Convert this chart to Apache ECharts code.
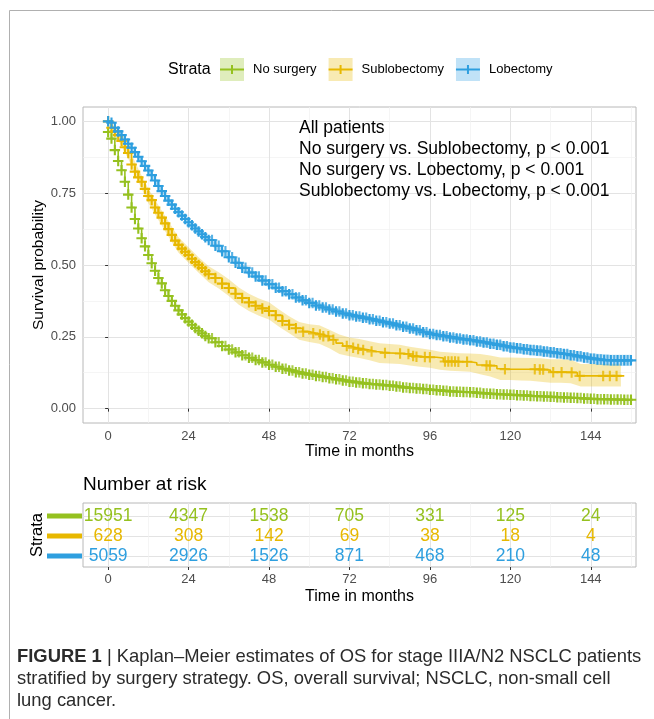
<!DOCTYPE html>
<html>
<head>
<meta charset="utf-8">
<script src="https://cdn.jsdelivr.net/npm/echarts@6/dist/echarts.min.js"></script>
<style>
html,body{margin:0;padding:0;background:#fff;}
#chart{width:654px;height:719px;}
</style>
</head>
<body>
<div id="chart"></div>
<script>
// ---------- data ----------
const strata = ['No surgery', 'Sublobectomy', 'Lobectomy'];
const xTicks = [0, 24, 48, 72, 96, 120, 144];
const xMinorTicks = [12, 36, 60, 84, 108, 132, 156];
const yTicks = [0, 0.25, 0.5, 0.75, 1];
const yMinorTicks = [0.125, 0.375, 0.625, 0.875];

const months = [0,1,2,3,4,5,6,7,8,9,10,11,12,13,14,15,16,17,18,19,20,21,22,23,24,25,26,27,28,29,30,
  32,34,36,38,40,42,44,46,48,50,52,54,56,58,60,62,64,66,68,70,72,
  74,76,78,80,82,84,86,88,90,92,94,96,98,100,102,104,106,108,110,112,114,116,118,120,
  122,124,126,128,130,132,134,136,138,140,142,144,146,148,150,152,154,156];

const survNoSurgery = [.963,.94,.90,.862,.83,.79,.745,.70,.66,.627,.593,.565,.535,.506,.48,.455,.436,.412,.392,.375,.358,.342,.328,.315,.303,.292,.281,.271,.262,.253,.245,
  .231,.218,.206,.196,.186,.177,.169,.161,.153,.146,.139,.133,.127,.122,.118,.114,.11,.106,.102,.098,.094,
  .091,.088,.086,.084,.082,.08,.077,.074,.072,.07,.068,.066,.064,.062,.06,.059,.058,.057,.055,.053,.052,.05,.049,.048,
  .047,.046,.044,.043,.042,.041,.04,.039,.038,.037,.035,.034,.033,.033,.032,.032,.031,.031];

const survSublobectomy = [1.0,.978,.965,.952,.932,.91,.89,.85,.825,.805,.79,.765,.74,.726,.70,.682,.665,.645,.625,.605,.585,.57,.557,.546,.535,.522,.51,.50,.49,.478,.468,
  .455,.435,.42,.40,.385,.37,.358,.349,.34,.325,.305,.292,.28,.268,.262,.258,.252,.24,.228,.218,.212,
  .208,.204,.199,.196,.194,.193,.192,.19,.183,.181,.18,.179,.176,.164,.164,.163,.163,.16,.152,.15,.149,.139,.137,.137,
  .137,.137,.137,.136,.134,.127,.127,.127,.126,.114,.114,.114,.114,.114,.114,.114,.114,null];

const survLobectomy = [1.0,.995,.978,.965,.952,.937,.922,.908,.893,.877,.861,.845,.829,.813,.794,.775,.757,.74,.724,.71,.696,.684,.672,.66,.649,.638,.627,.617,.607,.597,.587,
  .567,.548,.527,.508,.49,.474,.46,.446,.433,.421,.409,.398,.387,.377,.368,.359,.352,.345,.338,.331,.325,
  .321,.316,.311,.306,.301,.296,.29,.285,.279,.273,.266,.26,.256,.252,.248,.244,.241,.238,.234,.23,.226,.222,.217,.213,
  .21,.207,.204,.202,.199,.196,.193,.19,.186,.182,.178,.174,.171,.169,.168,.168,.168,.168];

// censoring marks read between the plotted steps (No surgery and Lobectomy are censored about every month)
const censorDense = [31,33,35,37,39,41,43,45,47,49,51,53,55,57,59,61,63,65,67,69,71,73,75,77,79,81,83,85,87,89,91,93,95,97,99,
  101,103,105,107,109,111,113,115,117,119,121,123,125,127,129,131,133,135,137,139,141,143,145,147,149,151,153,155];
// censoring marks of the Sublobectomy curve after month 56
const censorSublobectomy = [58.2,61.2,63.2,64.2,65.7,67.2,71.2,73.1,74.6,76.1,78.6,82.6,87.1,89.6,91,92,94.5,96,
  100.5,101.5,102.5,103.5,104.5,107.1,112.9,113.9,118.4,127.3,128.8,129.8,132.8,135.3,138.3,140.7,147.7,149.7,151.7];

// confidence bands
const ciTimesSub = [0,3,6,9,12,15,18,21,24,27,30,33,36,39,42,45,48,51,54,57,60,63,66,69,72,75,78,81,84,87,90,93,96,99,
  102,105,108,111,114,117,120,123,126,129,132,135,138,141,144,147,150,153];
const ciLowSub = [1,.935,.87,.79,.715,.657,.598,.543,.508,.473,.44,.418,.392,.362,.34,.323,.31,.285,.262,.24,.232,.226,.21,.19,
  .182,.176,.168,.159,.157,.155,.15,.146,.142,.135,.132,.13,.128,.12,.112,.10,.10,.098,.097,.094,.09,.09,.088,.077,.077,.077,.077,.077];
const ciHighSub = [1,.968,.91,.835,.765,.708,.652,.597,.562,.527,.496,.475,.45,.422,.40,.383,.37,.345,.322,.302,.294,.29,.275,.258,
  .248,.242,.235,.228,.225,.222,.215,.21,.205,.198,.195,.193,.192,.19,.185,.178,.178,.177,.176,.175,.172,.172,.17,.155,.155,.155,.155,.155];

const ciTimesLob = [0,6,12,18,24,30,36,42,48,54,60,66,72,78,84,90,96,102,108,114,120,126,132,138,144,150,156];
const ciLowLob = [1,.914,.82,.714,.639,.576,.516,.463,.422,.387,.357,.333,.313,.298,.284,.266,.247,.234,.223,.21,.196,.186,.178,.168,.155,.148,.148];
const ciHighLob = [1,.93,.838,.734,.659,.598,.538,.485,.444,.409,.379,.357,.337,.322,.308,.292,.273,.262,.253,.242,.23,.222,.214,.204,.193,.188,.188];

// number at risk
const riskTimes = [0, 24, 48, 72, 96, 120, 144];
const riskNoSurgery = [15951, 4347, 1538, 705, 331, 125, 24];
const riskSublobectomy = [628, 308, 142, 69, 38, 18, 4];
const riskLobectomy = [5059, 2926, 1526, 871, 468, 210, 48];

const annotationLines = ['All patients', 'No surgery vs. Sublobectomy, p < 0.001',
  'No surgery vs. Lobectomy, p < 0.001', 'Sublobectomy vs. Lobectomy, p < 0.001'];
const captionLines = ['Kaplan\u2013Meier estimates of OS for stage IIIA/N2 NSCLC patients',
  'stratified by surgery strategy. OS, overall survival; NSCLC, non-small cell', 'lung cancer.'];

// ---------- styling ----------
const FONT = '"Liberation Sans", Arial, Helvetica, sans-serif';
const colors = ['#95c11f', '#e7b800', '#2e9fdf'];
const legendFill = ['#dfedbc', '#f8eab3', '#c0e2f7'];
const bandSub = 'rgba(231,184,0,0.3)';
const bandLob = 'rgba(46,159,223,0.3)';
const plusSymbol = 'path://M4,0h2v4h4v2h-4v4h-2v-4h-4v-2h4z';
const plusKey = 'path://M0,0h0.01v0.01h-0.01z M23.99,22.99h0.01v0.01h-0.01z M0,10.5h24v2h-24z M11,7h2v9h-2z';
const markSize = 10.5;
const majorGrid = { show: true, lineStyle: { color: '#e3e3e3', width: 1 } };
const minorGrid = { show: true, lineStyle: { color: '#f1f1f1', width: 0.7 } };
const tickStyle = { color: '#4d4d4d', fontSize: 13, fontFamily: FONT };

function kmSeries(name, values, color, markUntil) {
  const data = [];
  months.forEach(function (t, i) {
    if (values[i] == null) return;
    const item = { value: [t, values[i]] };
    if (t > markUntil) item.symbol = 'none';
    data.push(item);
  });
  return {
    type: 'line', name: name, xAxisIndex: 0, yAxisIndex: 0, step: 'end', data: data,
    symbol: plusSymbol, symbolSize: markSize, showSymbol: true, showAllSymbol: true,
    color: color, lineStyle: { color: color, width: 1.6 },
    itemStyle: { color: color, borderWidth: 0 }, emphasis: { disabled: true }, z: 3
  };
}

function censorSeries(name, times, values, color) {
  return {
    type: 'scatter', name: name, xAxisIndex: 0, yAxisIndex: 0, z: 3,
    symbol: plusSymbol, symbolSize: markSize, itemStyle: { color: color, borderWidth: 0 },
    emphasis: { disabled: true }, silent: true,
    data: times.map(function (t) { return [t, stepValue(months, values, t)]; })
  };
}

function bandSeries(name, times, lo, hi, fill) {
  return {
    type: 'custom', name: name, xAxisIndex: 0, yAxisIndex: 0, silent: true, z: 2,
    data: times.map(function (t, i) { return [t, lo[i], hi[i]]; }),
    renderItem: function (params, api) {
      if (params.dataIndex !== 0) return null;
      const up = [], dn = [];
      for (let i = 0; i < times.length; i++) {
        up.push(api.coord([times[i], hi[i]]));
        dn.unshift(api.coord([times[i], lo[i]]));
      }
      return { type: 'polygon', shape: { points: up.concat(dn) }, style: { fill: fill } };
    }
  };
}

function stepValue(ts, vs, t) {
  let v = null;
  for (let i = 0; i < ts.length; i++) if (ts[i] <= t && vs[i] != null) v = vs[i];
  return v;
}

const riskRows = [riskNoSurgery, riskSublobectomy, riskLobectomy];
const riskData = [];
riskRows.forEach(function (row, r) {
  riskTimes.forEach(function (t, i) { riskData.push([t, r + 1, row[i]]); });
});

const chart = echarts.init(document.getElementById('chart'), null, { renderer: 'canvas' });

const xMain = function (gridIndex, labelMargin, nameGap) {
  return {
    gridIndex: gridIndex, type: 'value', min: -7.5, max: 157.5,
    axisLine: { show: false },
    axisTick: { show: true, length: 3, lineStyle: { color: '#333' }, customValues: xTicks },
    axisLabel: Object.assign({ customValues: xTicks, margin: labelMargin }, tickStyle),
    splitLine: majorGrid,
    name: 'Time in months', nameLocation: 'middle', nameGap: nameGap, nameMoveOverlap: false,
    nameTextStyle: { fontSize: 16, color: '#000', fontFamily: FONT }
  };
};
const xMinor = function (gridIndex) {
  return {
    gridIndex: gridIndex, type: 'value', min: -7.5, max: 157.5,
    axisLine: { show: false }, axisTick: { show: false, customValues: xMinorTicks },
    axisLabel: { show: false, customValues: xMinorTicks }, splitLine: minorGrid
  };
};

const option = {
  animation: false,
  backgroundColor: '#fff',
  textStyle: { fontFamily: FONT },
  grid: [
    { left: 83, top: 107, width: 553, height: 316, show: true, borderColor: '#b8b8b8', borderWidth: 1, backgroundColor: 'transparent' },
    { left: 83, top: 503, width: 553, height: 64, show: true, borderColor: '#b8b8b8', borderWidth: 1, backgroundColor: 'transparent' }
  ],
  legend: [
    {
      left: 220, top: 58, padding: 0, itemWidth: 24, itemHeight: 23, itemGap: 12, icon: 'rect',
      selectedMode: false,
      textStyle: { fontSize: 13, color: '#000', fontFamily: FONT, padding: [0, 0, 0, 4] },
      data: strata.map(function (n, i) { return { name: n, itemStyle: { color: legendFill[i], borderWidth: 0 } }; })
    },
    {
      left: 220, top: 58, padding: 0, itemWidth: 24, itemHeight: 23, itemGap: 12, icon: plusKey,
      selectedMode: false,
      textStyle: { fontSize: 13, color: 'rgba(0,0,0,0)', fontFamily: FONT, padding: [0, 0, 0, 4] },
      data: strata.map(function (n, i) { return { name: n, itemStyle: { color: colors[i], borderWidth: 0 } }; })
    }
  ],
  xAxis: [xMain(0, 7, 21), xMinor(0), xMain(1, 6, 22), xMinor(1)],
  yAxis: [
    {
      gridIndex: 0, type: 'value', min: -0.05, max: 1.05,
      axisLine: { show: false },
      axisTick: { show: true, length: 3, lineStyle: { color: '#333' }, customValues: yTicks },
      axisLabel: Object.assign({ customValues: yTicks, margin: 7, formatter: function (v) { return v.toFixed(2); } }, tickStyle),
      splitLine: majorGrid,
      name: 'Survival probability', nameLocation: 'middle', nameGap: 36, nameMoveOverlap: false,
      nameTextStyle: { fontSize: 15.5, color: '#000', fontFamily: FONT }
    },
    {
      gridIndex: 0, type: 'value', min: -0.05, max: 1.05,
      axisLine: { show: false }, axisTick: { show: false, customValues: yMinorTicks },
      axisLabel: { show: false, customValues: yMinorTicks }, splitLine: minorGrid
    },
    {
      gridIndex: 1, type: 'value', min: 0.35, max: 3.55, inverse: true,
      axisLine: { show: false },
      axisTick: { show: false, customValues: [1, 2, 3] },
      axisLabel: {
        customValues: [1, 2, 3], margin: 1,
        formatter: function (v) { return '{s' + v + '| }'; },
        rich: {
          s1: { width: 35, height: 5, lineHeight: 5, fontSize: 2, backgroundColor: colors[0] },
          s2: { width: 35, height: 5, lineHeight: 5, fontSize: 2, backgroundColor: colors[1] },
          s3: { width: 35, height: 5, lineHeight: 5, fontSize: 2, backgroundColor: colors[2] }
        }
      },
      splitLine: majorGrid,
      name: 'Strata', nameLocation: 'middle', nameGap: 37, nameMoveOverlap: false,
      nameTextStyle: { fontSize: 16.5, color: '#000', fontFamily: FONT }
    }
  ],
  graphic: [
    { type: 'line', z: 100, shape: { x1: 9.5, y1: 10.5, x2: 654, y2: 10.5 }, style: { stroke: '#b0b0b0', lineWidth: 1 }, silent: true },
    { type: 'line', z: 100, shape: { x1: 9.5, y1: 10.5, x2: 9.5, y2: 719 }, style: { stroke: '#b0b0b0', lineWidth: 1 }, silent: true },
    { type: 'text', z: 100, x: 168, y: 70, silent: true, style: { text: 'Strata', font: '16px ' + FONT, fill: '#000', verticalAlign: 'middle' } },
    { type: 'text', z: 100, x: 299, y: 118, silent: true, style: { text: annotationLines.join('\n'), font: '17.5px ' + FONT, lineHeight: 21, fill: '#000', verticalAlign: 'top' } },
    { type: 'text', z: 100, x: 83, y: 485, silent: true, style: { text: 'Number at risk', font: '19px ' + FONT, fill: '#000', verticalAlign: 'middle' } },
    {
      type: 'text', z: 100, x: 17, y: 657, silent: true,
      style: {
        text: '{b|FIGURE 1} | ' + captionLines[0], font: '18.4px ' + FONT, fill: '#2b2b2b', verticalAlign: 'middle',
        rich: { b: { fontWeight: 'bold', fontSize: 18.4, fontFamily: FONT, fill: '#2b2b2b' } }
      }
    },
    { type: 'text', z: 100, x: 17, y: 679, silent: true, style: { text: captionLines[1], font: '18.4px ' + FONT, fill: '#2b2b2b', verticalAlign: 'middle' } },
    { type: 'text', z: 100, x: 17, y: 701, silent: true, style: { text: captionLines[2], font: '18.4px ' + FONT, fill: '#2b2b2b', verticalAlign: 'middle' } }
  ],
  series: [
    bandSeries('Sublobectomy CI', ciTimesSub, ciLowSub, ciHighSub, bandSub),
    bandSeries('Lobectomy CI', ciTimesLob, ciLowLob, ciHighLob, bandLob),
    kmSeries(strata[0], survNoSurgery, colors[0], Infinity),
    censorSeries('No surgery censored', censorDense, survNoSurgery, colors[0]),
    kmSeries(strata[1], survSublobectomy, colors[1], 56),
    censorSeries('Sublobectomy censored', censorSublobectomy, survSublobectomy, colors[1]),
    kmSeries(strata[2], survLobectomy, colors[2], Infinity),
    censorSeries('Lobectomy censored', censorDense, survLobectomy, colors[2]),
    {
      type: 'custom', name: 'risk', xAxisIndex: 2, yAxisIndex: 2, silent: true, z: 4,
      data: riskData,
      renderItem: function (params, api) {
        const p = api.coord([api.value(0), api.value(1)]);
        return {
          type: 'text', x: p[0], y: p[1],
          style: { text: String(api.value(2)), fill: colors[api.value(1) - 1], font: '17.5px ' + FONT, align: 'center', verticalAlign: 'middle' }
        };
      }
    }
  ]
};
chart.setOption(option);
</script>
</body>
</html>
